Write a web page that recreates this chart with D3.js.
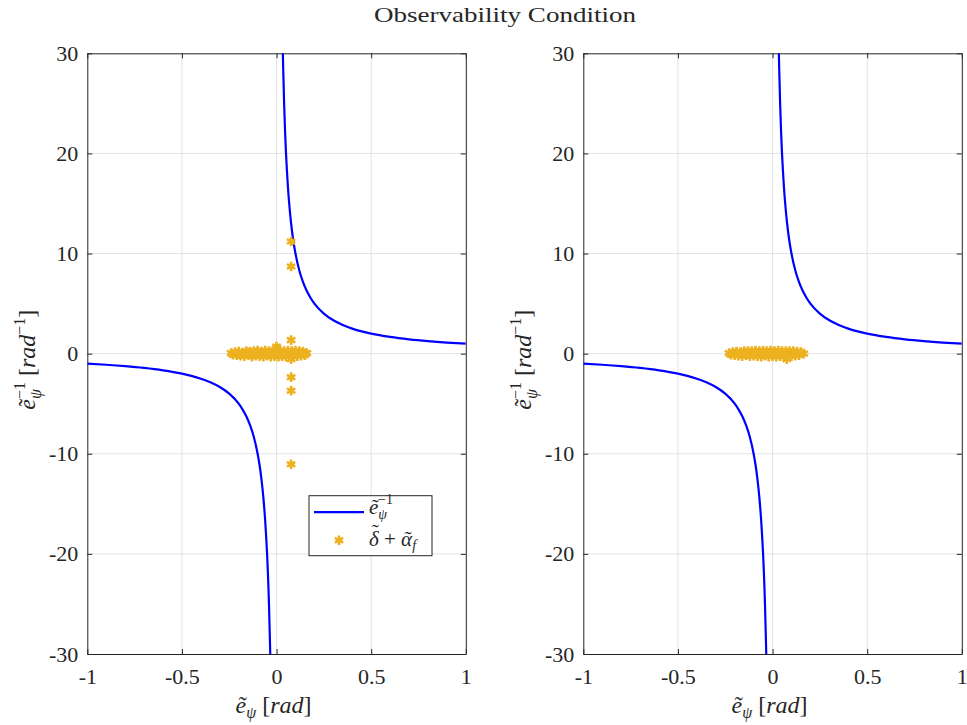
<!DOCTYPE html>
<html>
<head>
<meta charset="utf-8">
<script src="https://cdn.jsdelivr.net/npm/d3@7"></script>
<style>
body { margin: 0; background: #fff; }
svg text { font-family: "Liberation Serif", "DejaVu Serif", serif; fill: #262626; }
</style>
</head>
<body>
<div class="chart"></div>
<script>
/* DATA */
var xTicks = [-1, -0.5, 0, 0.5, 1];
var xTickLabels = ["-1", "-0.5", "0", "0.5", "1"];
var yTicks = [-30, -20, -10, 0, 10, 20, 30];
var yTickLabels = ["-30", "-20", "-10", "0", "10", "20", "30"];

// blue curve (left and right branch)
var negBranchX = [-1, -0.9, -0.8, -0.7, -0.6, -0.5, -0.45, -0.4, -0.35, -0.3, -0.25, -0.2, -0.18, -0.16, -0.14, -0.12, -0.1, -0.09, -0.08, -0.07, -0.06, -0.05, -0.045, -0.04, -0.035, -0.0333];
var negBranchY = [-1, -1.11, -1.25, -1.43, -1.67, -2, -2.22, -2.5, -2.86, -3.33, -4, -5, -5.56, -6.25, -7.14, -8.33, -10, -11.1, -12.5, -14.3, -16.7, -20, -22.2, -25, -28.6, -30];
var posBranchX = [0.0333, 0.035, 0.04, 0.045, 0.05, 0.06, 0.07, 0.08, 0.09, 0.1, 0.12, 0.14, 0.16, 0.18, 0.2, 0.25, 0.3, 0.35, 0.4, 0.45, 0.5, 0.6, 0.7, 0.8, 0.9, 1];
var posBranchY = [30, 28.6, 25, 22.2, 20, 16.7, 14.3, 12.5, 11.1, 10, 8.33, 7.14, 6.25, 5.56, 5, 4, 3.33, 2.86, 2.5, 2.22, 2, 1.67, 1.43, 1.25, 1.11, 1];

// orange asterisks, left panel
var leftDots = [
    [-0.24, 0.05], [-0.23, -0.1], [-0.22, 0.15], [-0.21, -0.15], [-0.2, 0.2], [-0.19, -0.2], [-0.18, 0.1],
    [-0.17, -0.25], [-0.16, 0.25], [-0.15, -0.1], [-0.14, 0.2], [-0.13, -0.3], [-0.12, 0.25], [-0.11, -0.2],
    [-0.1, 0.3], [-0.09, -0.25], [-0.08, 0.2], [-0.07, -0.3], [-0.06, 0.3], [-0.05, -0.2], [-0.04, 0.25],
    [-0.03, -0.3], [-0.02, 0.3], [-0.01, -0.25], [0, 0.7], [0.01, -0.3], [0.02, 0.3], [0.03, -0.25],
    [0.04, 0.25], [0.05, -0.3], [0.06, 0.3], [0.07, -0.2], [0.08, 0.25], [0.09, -0.3], [0.1, 0.3],
    [0.11, -0.25], [0.12, 0.25], [0.13, -0.2], [0.14, 0.2], [0.15, -0.15], [0.16, 0.05],
    [-0.2, -0.05], [-0.15, 0.05], [-0.1, 0], [-0.05, 0.05], [0, -0.05], [0.05, 0], [0.1, 0.05], [0.15, 0],
    [0.077, 11.2], [0.077, 8.7], [0.077, 1.35], [0.077, -0.55], [0.077, -2.35], [0.077, -3.7], [0.077, -11.05]
];

// orange asterisks, right panel
var rightDots = [
    [-0.23, 0.05], [-0.22, -0.1], [-0.21, 0.15], [-0.2, -0.15], [-0.19, 0.2], [-0.18, -0.2], [-0.17, 0.15],
    [-0.16, -0.25], [-0.15, 0.25], [-0.14, -0.15], [-0.13, 0.25], [-0.12, -0.25], [-0.11, 0.25], [-0.1, -0.2],
    [-0.09, 0.3], [-0.08, -0.25], [-0.07, 0.25], [-0.06, -0.3], [-0.05, 0.3], [-0.04, -0.2], [-0.03, 0.25],
    [-0.02, -0.3], [-0.01, 0.3], [0, -0.25], [0.01, 0.25], [0.02, -0.3], [0.03, 0.3], [0.04, -0.25],
    [0.05, 0.25], [0.06, -0.3], [0.07, 0.25], [0.08, -0.2], [0.09, 0.25], [0.1, -0.25], [0.11, 0.25],
    [0.12, -0.2], [0.13, 0.2], [0.14, -0.15], [0.15, 0.15], [0.165, 0],
    [-0.2, 0], [-0.15, 0.05], [-0.1, 0], [-0.05, 0.05], [0, 0], [0.05, 0], [0.1, 0.05], [0.075, -0.55]
];

/* SET UP */
var W = 967, H = 725;
var blue = "#0000ff", orange = "#edb120", axisCol = "#262626", gridCol = "#e3e3e3";
var plotTop = 53.3, plotW = 378.5, plotH = 600.7;

var svg = d3.select(".chart").append("svg")
    .attr("width", W)
    .attr("height", H)
    .style("display", "block");

svg.append("text")
    .attr("x", 505)
    .attr("y", 22)
    .attr("text-anchor", "middle")
    .attr("textLength", 262)
    .attr("lengthAdjust", "spacingAndGlyphs")
    .style("font-size", "21px")
    .text("Observability Condition");

var panels = [
    { left: 87.3, dots: leftDots, legend: true, id: "a" },
    { left: 583.3, dots: rightDots, legend: false, id: "b" }
];

panels.forEach(drawPanel);

// letter with a tilde on top, returns the dx the next tspan needs
// (raise lifts the tilde for tall letters; dy is put back on the next tspan by the caller)
function tildeLetter(t, ch, fs, wB, raise) {
    t.append("tspan").style("font-style", "italic").text(ch);
    var wT = 0.333, sh = 0.08;
    t.append("tspan")
        .attr("dx", (-(wB / 2 + wT / 2) + sh) * fs)
        .attr("dy", raise ? -raise * fs : null)
        .text("\u02dc");
    return (wB / 2 - wT / 2 - sh) * fs;
}

function drawPanel(p) {
    var xScale = d3.scaleLinear().domain([-1, 1]).range([0, plotW]);
    var yScale = d3.scaleLinear().domain([-30, 30]).range([plotH, 0]);

    var g = svg.append("g").attr("transform", "translate(" + p.left + "," + plotTop + ")");

    g.append("clipPath").attr("id", "clip-" + p.id)
        .append("rect").attr("width", plotW).attr("height", plotH);

    // grid
    g.selectAll(".gx").data(xTicks.slice(1, -1)).enter().append("line")
        .attr("x1", xScale).attr("x2", xScale)
        .attr("y1", 0).attr("y2", plotH)
        .attr("stroke", gridCol);
    g.selectAll(".gy").data(yTicks.slice(1, -1)).enter().append("line")
        .attr("y1", yScale).attr("y2", yScale)
        .attr("x1", 0).attr("x2", plotW)
        .attr("stroke", gridCol);

    // axes, ticks point inward
    var xAxis = g.append("g").attr("transform", "translate(0," + plotH + ")")
        .call(d3.axisBottom(xScale).tickValues(xTicks).tickSizeInner(-5).tickSizeOuter(0).tickPadding(14)
            .tickFormat(function(d, i) { return xTickLabels[i]; }));
    var xAxisTop = g.append("g")
        .call(d3.axisTop(xScale).tickValues(xTicks).tickSizeInner(-5).tickSizeOuter(0).tickFormat(""));
    var yAxis = g.append("g")
        .call(d3.axisLeft(yScale).tickValues(yTicks).tickSizeInner(-5).tickSizeOuter(0).tickPadding(9)
            .tickFormat(function(d, i) { return yTickLabels[i]; }));
    var yAxisRight = g.append("g").attr("transform", "translate(" + plotW + ",0)")
        .call(d3.axisRight(yScale).tickValues(yTicks).tickSizeInner(-5).tickSizeOuter(0).tickFormat(""));

    [xAxis, xAxisTop, yAxis, yAxisRight].forEach(function(a) {
        a.selectAll("path").attr("stroke", axisCol);
        a.selectAll("line").attr("stroke", axisCol);
        a.selectAll("text").attr("fill", axisCol).style("font-size", "22px")
            .style("font-family", "'Liberation Serif', serif");
    });

    // curve
    var line = d3.line()
        .x(function(d) { return xScale(d[0]); })
        .y(function(d) { return yScale(d[1]); })
        .curve(d3.curveMonotoneX);

    var marks = g.append("g").attr("clip-path", "url(#clip-" + p.id + ")");
    [[negBranchX, negBranchY], [posBranchX, posBranchY]].forEach(function(b) {
        marks.append("path")
            .datum(d3.zip(b[0], b[1]))
            .attr("d", line)
            .attr("fill", "none")
            .attr("stroke", blue)
            .attr("stroke-width", 2.2);
    });

    // asterisks
    var star = d3.symbol().type(d3.symbolAsterisk).size(65);
    marks.selectAll(".dot").data(p.dots).enter().append("path")
        .attr("class", "dot")
        .attr("d", star)
        .attr("transform", function(d) { return "translate(" + xScale(d[0]) + "," + yScale(d[1]) + ")"; })
        .attr("fill", "none")
        .attr("stroke", orange)
        .attr("stroke-width", 2.6);

    // x label
    var fs = 24;
    var xl = g.append("text")
        .attr("x", plotW / 2 - 41)
        .attr("y", plotH + 59)
        .style("font-size", fs + "px");
    var back = tildeLetter(xl, "e", fs, 0.444);
    xl.append("tspan").style("font-style", "italic").style("font-size", "16px")
        .attr("dx", back).attr("dy", 5).text("\u03c8");
    xl.append("tspan").attr("dy", -5).text(" [");
    xl.append("tspan").style("font-style", "italic").text("rad");
    xl.append("tspan").text("]");

    // y label
    var yl = g.append("text")
        .attr("transform", "translate(-52," + (plotH / 2 + 56) + ") rotate(-90)")
        .style("font-size", fs + "px");
    back = tildeLetter(yl, "e", fs, 0.444);
    yl.append("tspan").style("font-style", "italic").style("font-size", "16px")
        .attr("dx", back).attr("dy", 6).text("\u03c8");
    yl.append("tspan").style("font-size", "16px").attr("dx", -10).attr("dy", -16).text("\u22121");
    yl.append("tspan").attr("dy", 10).text(" [");
    yl.append("tspan").style("font-style", "italic").text("rad");
    yl.append("tspan").style("font-size", "16px").attr("dy", -10).text("\u22121");
    yl.append("tspan").attr("dy", 10).text("]");

    if (p.legend) drawLegend(g, star);
}

function drawLegend(g, star) {
    var lx = 309 - 87.3, ly = 495.7 - 53.3;
    var lg = g.append("g").attr("transform", "translate(" + lx + "," + ly + ")");
    lg.append("rect")
        .attr("width", 123).attr("height", 60)
        .attr("fill", "#fff").attr("stroke", axisCol).attr("stroke-width", 1);
    lg.append("line")
        .attr("x1", 5).attr("x2", 55).attr("y1", 16.5).attr("y2", 16.5)
        .attr("stroke", blue).attr("stroke-width", 2.2);

    var fs = 21;
    var t1 = lg.append("text").attr("x", 60).attr("y", 18).style("font-size", fs + "px");
    var back = tildeLetter(t1, "e", fs, 0.444);
    t1.append("tspan").style("font-style", "italic").style("font-size", "14px")
        .attr("dx", back).attr("dy", 5).text("\u03c8");
    t1.append("tspan").style("font-size", "14px").attr("dx", -9).attr("dy", -15).text("\u22121");

    lg.append("path")
        .attr("d", star)
        .attr("transform", "translate(30,44.5)")
        .attr("fill", "none").attr("stroke", orange).attr("stroke-width", 2.6);
    var t2 = lg.append("text").attr("x", 60).attr("y", 50).style("font-size", fs + "px");
    var raise = 0.3;
    back = tildeLetter(t2, "\u03b4", fs, 0.5, raise);
    t2.append("tspan").attr("dx", back).attr("dy", raise * fs).text(" + ");
    back = tildeLetter(t2, "\u03b1", fs, 0.55);
    t2.append("tspan").style("font-style", "italic").style("font-size", "14px")
        .attr("dx", back).attr("dy", 4).text("f");
}
</script>
</body>
</html>
